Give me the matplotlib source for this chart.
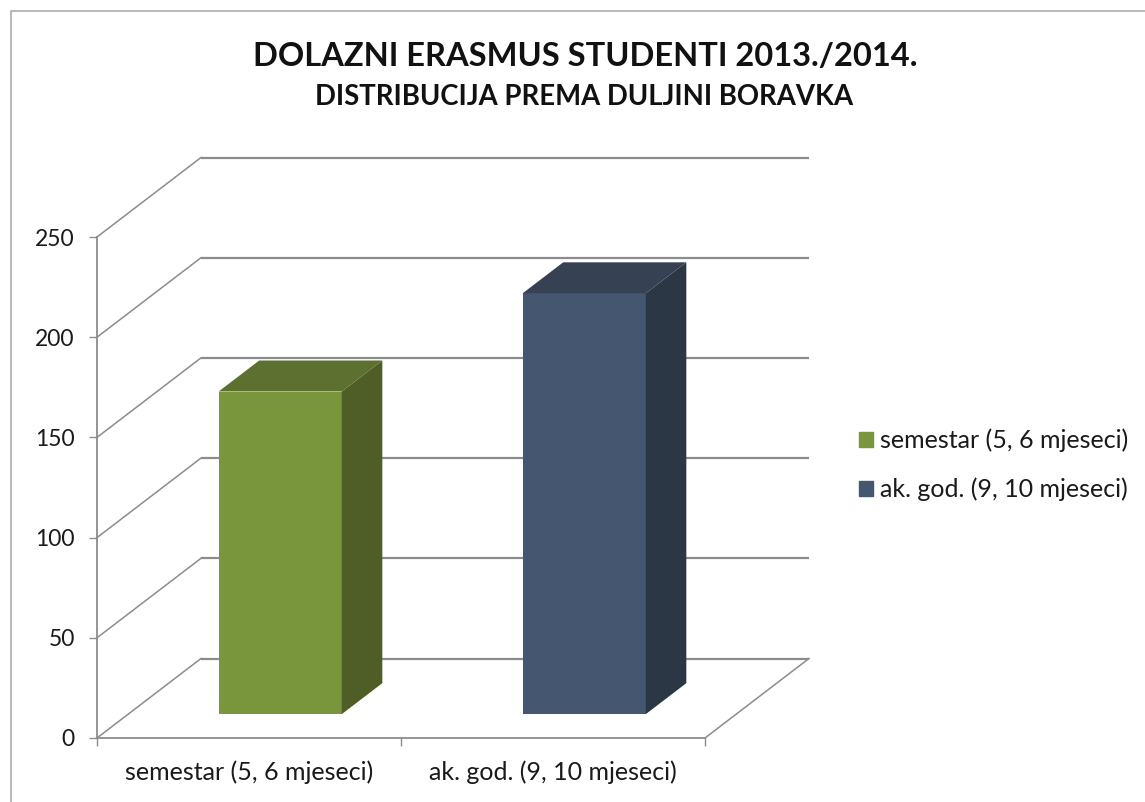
import matplotlib
matplotlib.use("Agg")
import matplotlib.pyplot as plt
from matplotlib.patches import Patch, Polygon, Rectangle

plt.rcParams["font.family"] = ["Lato", "DejaVu Sans"]

# Data
categories = ["semestar (5, 6 mjeseci)", "ak. god. (9, 10 mjeseci)"]
student_counts = [161, 210]
value_ticks = [0, 50, 100, 150, 200, 250]

# Colours: front, top, side
GREEN_FACES = ("#7a963c", "#5c7130", "#4e5e26")
BLUE_FACES = ("#455770", "#364254", "#2b3745")
GRID_COLOR = "#8c8c8c"

# Figure size in pixels
WIDTH_PX = 1145
HEIGHT_PX = 802

# How far the back wall sits from the front plane, in data units
DEPTH_X = 104 / 304
DEPTH_Y = 79.5 / 2.004
BAR_FRONT = 0.3
BAR_BACK = 0.69
BAR_WIDTH = 0.405


def project(x, y, depth):
    return (x + depth * DEPTH_X, y + depth * DEPTH_Y)


def draw_walls(ax):
    for value in value_ticks:
        # side wall diagonal, then the back wall line
        ax.plot(*zip(project(0, value, 0), project(0, value, 1)),
                color=GRID_COLOR, lw=1.1, clip_on=False, zorder=1)
        ax.plot(*zip(project(0, value, 1), project(2, value, 1)),
                color=GRID_COLOR, lw=1.6, clip_on=False, zorder=1,
                solid_capstyle="butt")
    # right edge of the floor
    ax.plot(*zip(project(2, 0, 0), project(2, 0, 1)),
            color=GRID_COLOR, lw=1.1, clip_on=False, zorder=1)


def draw_bar(ax, center, value, faces):
    left = center - BAR_WIDTH / 2
    right = center + BAR_WIDTH / 2
    front_color, top_color, side_color = faces

    x0, y0 = project(left, 0, BAR_FRONT)
    ax.bar(x0, value, width=BAR_WIDTH, bottom=y0, align="edge",
           color=front_color, clip_on=False, zorder=3)

    side = [
        project(right, 0, BAR_FRONT),
        project(right, value, BAR_FRONT),
        project(right, value, BAR_BACK),
        project(right, 0, BAR_BACK),
    ]
    top = [
        project(left, value, BAR_FRONT),
        project(right, value, BAR_FRONT),
        project(right, value, BAR_BACK),
        project(left, value, BAR_BACK),
    ]
    ax.add_patch(Polygon(side, closed=True, facecolor=side_color, edgecolor="none",
                         clip_on=False, zorder=3))
    ax.add_patch(Polygon(top, closed=True, facecolor=top_color, edgecolor="none",
                         clip_on=False, zorder=3))


def graph():
    fig = plt.figure(figsize=(WIDTH_PX / 100, HEIGHT_PX / 100), dpi=100)
    ax = fig.add_axes([97 / WIDTH_PX, (HEIGHT_PX - 738) / HEIGHT_PX,
                       608 / WIDTH_PX, 501 / HEIGHT_PX])
    ax.set_xlim(0, 2)
    ax.set_ylim(0, 250)
    ax.patch.set_alpha(0)

    for name in ("top", "right"):
        ax.spines[name].set_visible(False)
    for name in ("left", "bottom"):
        ax.spines[name].set_color(GRID_COLOR)
        ax.spines[name].set_linewidth(1.3)

    ax.set_yticks(value_ticks)
    ax.tick_params(axis="y", length=6, width=1, color=GRID_COLOR, pad=10,
                   labelsize=16.5, labelcolor="#1a1a1a")
    ax.set_xticks([0, 1, 2])
    ax.set_xticklabels([])
    ax.tick_params(axis="x", which="major", length=6, width=1, color=GRID_COLOR)
    ax.set_xticks([0.5, 1.5], minor=True)
    ax.set_xticklabels(categories, minor=True)
    ax.tick_params(axis="x", which="minor", length=0, pad=16,
                   labelsize=18, labelcolor="#1a1a1a")

    draw_walls(ax)
    draw_bar(ax, 0.5, student_counts[0], GREEN_FACES)
    draw_bar(ax, 1.5, student_counts[1], BLUE_FACES)

    # Chart border
    fig.add_artist(Rectangle((11 / WIDTH_PX, -0.01), 1.1, 1 - 11 / HEIGHT_PX + 0.01,
                             transform=fig.transFigure, fill=False,
                             edgecolor="#a6a6a6", lw=1.1))

    fig.text(585.5 / WIDTH_PX, 1 - 56 / HEIGHT_PX, "DOLAZNI ERASMUS STUDENTI 2013./2014.",
             ha="center", va="center", fontsize=23.5, fontweight="bold", color="#111111")
    fig.text(584.5 / WIDTH_PX, 1 - 97 / HEIGHT_PX, "DISTRIBUCIJA PREMA DULJINI BORAVKA",
             ha="center", va="center", fontsize=19.8, fontweight="bold", color="#111111")

    handles = [Patch(color=GREEN_FACES[0], label=categories[0]),
               Patch(color=BLUE_FACES[0], label=categories[1])]
    fig.legend(handles=handles, loc="center left",
               bbox_to_anchor=(836.5 / WIDTH_PX, 1 - 465 / HEIGHT_PX),
               frameon=False, fontsize=18, handlelength=0.56, handleheight=0.56,
               handletextpad=0.28, labelspacing=1.0, labelcolor="#1a1a1a")

    fig.savefig("out.png", dpi=100)


def main():
    graph()


if __name__ == "__main__":
    main()
